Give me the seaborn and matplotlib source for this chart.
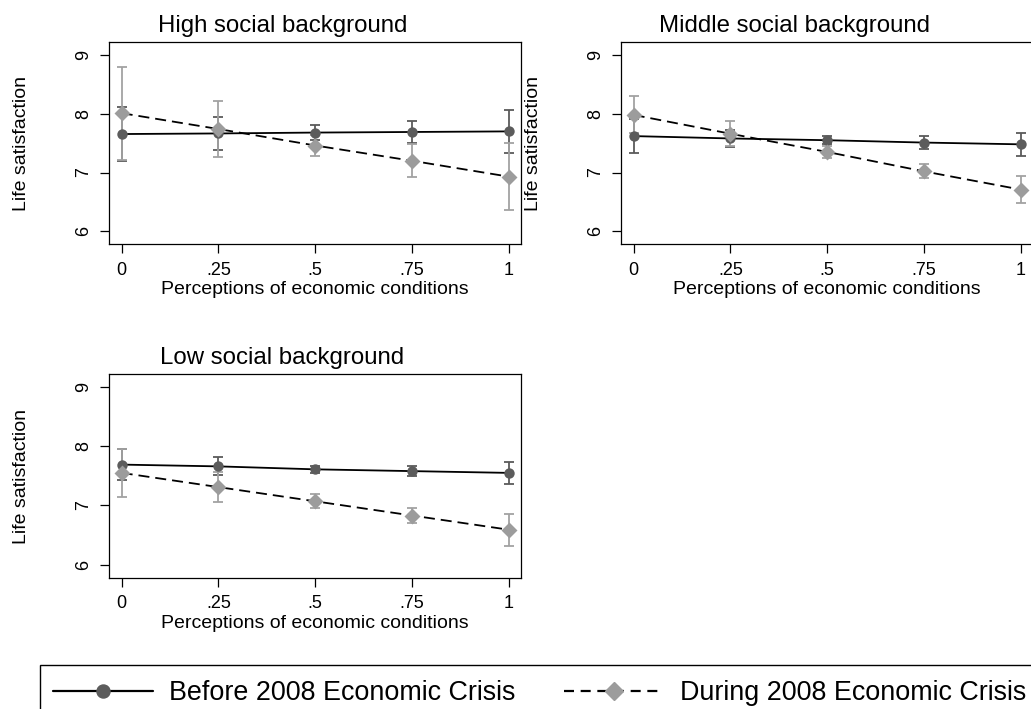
import numpy as np
import pandas as pd
import matplotlib
matplotlib.use("Agg")
import matplotlib.pyplot as plt
from matplotlib.lines import Line2D
from matplotlib.patches import Rectangle
import seaborn as sns

sns.set_theme(style="white")
plt.rcParams["font.family"] = ["Liberation Sans", "DejaVu Sans"]
plt.rcParams["text.color"] = "black"
plt.rcParams["axes.labelcolor"] = "black"

# ---------------- data ----------------
x_vals = [0, 0.25, 0.5, 0.75, 1]
x_labels = ["0", ".25", ".5", ".75", "1"]
y_ticks = [6, 7, 8, 9]
panels = ["High social background", "Middle social background", "Low social background"]
periods = ["Before 2008 Economic Crisis", "During 2008 Economic Crisis"]

high_before = [7.655, 7.665, 7.68, 7.69, 7.70]
high_before_lo = [7.19, 7.38, 7.55, 7.50, 7.33]
high_before_hi = [8.12, 7.95, 7.81, 7.88, 8.07]
high_during = [8.01, 7.74, 7.46, 7.20, 6.93]
high_during_lo = [7.22, 7.27, 7.28, 6.92, 6.36]
high_during_hi = [8.80, 8.21, 7.64, 7.48, 7.50]

mid_before = [7.62, 7.58, 7.55, 7.51, 7.48]
mid_before_lo = [7.33, 7.44, 7.48, 7.40, 7.28]
mid_before_hi = [7.91, 7.72, 7.62, 7.62, 7.67]
mid_during = [7.98, 7.66, 7.35, 7.02, 6.71]
mid_during_lo = [7.67, 7.45, 7.24, 6.90, 6.48]
mid_during_hi = [8.30, 7.87, 7.46, 7.14, 6.94]

low_before = [7.69, 7.66, 7.61, 7.58, 7.55]
low_before_lo = [7.43, 7.51, 7.55, 7.49, 7.37]
low_before_hi = [7.95, 7.81, 7.67, 7.67, 7.73]
low_during = [7.55, 7.31, 7.07, 6.83, 6.59]
low_during_lo = [7.14, 7.06, 6.95, 6.71, 6.32]
low_during_hi = [7.95, 7.56, 7.19, 6.95, 6.86]

series = {
    (panels[0], periods[0]): (high_before, high_before_lo, high_before_hi),
    (panels[0], periods[1]): (high_during, high_during_lo, high_during_hi),
    (panels[1], periods[0]): (mid_before, mid_before_lo, mid_before_hi),
    (panels[1], periods[1]): (mid_during, mid_during_lo, mid_during_hi),
    (panels[2], periods[0]): (low_before, low_before_lo, low_before_hi),
    (panels[2], periods[1]): (low_during, low_during_lo, low_during_hi),
}
rows = []
for (p, per), (m, lo, hi) in series.items():
    for xv, mv, lv, hv in zip(x_vals, m, lo, hi):
        rows.append(dict(panel=p, period=per, x=xv, y=mv, lo=lv, hi=hv))
df = pd.DataFrame(rows)

# ---------------- style ----------------
W, H = 1031, 709
dark = "#5c5c5c"
light = "#9c9c9c"
err_dark = "#5a5a5a"
err_light = "#a2a2a2"

fig = plt.figure(figsize=(W / 100, H / 100), dpi=100)
fig.patch.set_facecolor("white")


def px_axes(left, top, right, bottom):
    return fig.add_axes([left / W, 1 - bottom / H, (right - left) / W, (bottom - top) / H])


axes = [
    px_axes(108.7, 42.3, 521.3, 244.3),
    px_axes(620.7, 42.3, 1033.3, 244.3),
    px_axes(108.7, 374.3, 521.3, 577.7),
]

for ax, p in zip(axes, panels):
    sub = df[df["panel"] == p]
    for per, ec in zip(periods, [err_dark, err_light]):
        s = sub[sub["period"] == per]
        ax.errorbar(s["x"], s["y"], yerr=[s["y"] - s["lo"], s["hi"] - s["y"]],
                    fmt="none", ecolor=ec, elinewidth=1.3, capsize=3.4,
                    capthick=1.3, zorder=2)
    sns.lineplot(data=sub, x="x", y="y", style="period", style_order=periods,
                 dashes={periods[0]: "", periods[1]: (6.1, 3.3)},
                 color="black", lw=1.3, estimator=None, legend=False,
                 ax=ax, zorder=3)
    sns.scatterplot(data=sub[sub["period"] == periods[0]], x="x", y="y",
                    marker="o", color=dark, s=56, linewidth=0, legend=False,
                    ax=ax, zorder=4)
    sns.scatterplot(data=sub[sub["period"] == periods[1]], x="x", y="y",
                    marker="D", color=light, s=66, linewidth=0, legend=False,
                    ax=ax, zorder=5)

    ax.set_xlim(-0.0335, 1.032)
    ax.set_ylim(5.78, 9.215)
    ax.set_xticks(x_vals)
    ax.set_xticklabels(x_labels)
    ax.set_yticks(y_ticks)
    ax.set_yticklabels([str(t) for t in y_ticks])
    ax.tick_params(axis="both", which="major", direction="out", length=6.3,
                   width=0.9, color="black", labelsize=13, labelcolor="black",
                   left=True, bottom=True)
    ax.tick_params(axis="x", pad=6.5)
    ax.tick_params(axis="y", pad=5.5, labelrotation=90)
    for lab in ax.get_yticklabels():
        lab.set_va("center")
    for sp in ax.spines.values():
        sp.set_visible(True)
        sp.set_color("black")
        sp.set_linewidth(0.9)
    ax.set_facecolor("white")
    ax.grid(False)
    ax.set_xlabel("Perceptions of economic conditions", fontsize=14, color="black")
    ax.set_ylabel("Life satisfaction", fontsize=14, color="black")
    ax.xaxis.set_label_coords(0.5, -0.184)
    ax.yaxis.set_label_coords(-0.191, 0.5)
    ax.set_title(p, fontsize=17.3, x=0.421, pad=7.5, color="black")

handles = [
    Line2D([], [], color="black", lw=1.6, marker="o", markersize=9.4,
           markerfacecolor=dark, markeredgecolor=dark),
    Line2D([], [], color="black", lw=1.6, dashes=(4.5, 3.0), marker="D",
           markersize=9.5, markerfacecolor=light, markeredgecolor=light),
]
leg = fig.legend(handles, periods, loc="upper left",
                 bbox_to_anchor=(40 / W, 1 - 667 / H), ncol=2, frameon=False,
                 fontsize=19.4, handlelength=3.7, handletextpad=0.6,
                 columnspacing=1.8, borderpad=0.5, borderaxespad=0)
for t in leg.get_texts():
    t.set_color("black")

# legend frame extends past the right and bottom edges of the figure
fig.add_artist(Rectangle((40 / W, -0.05), 1.1, 1 - 665 / H + 0.05,
                         transform=fig.transFigure, fill=False,
                         edgecolor="black", linewidth=1.0, zorder=0))

fig.savefig("out.png", dpi=100)
